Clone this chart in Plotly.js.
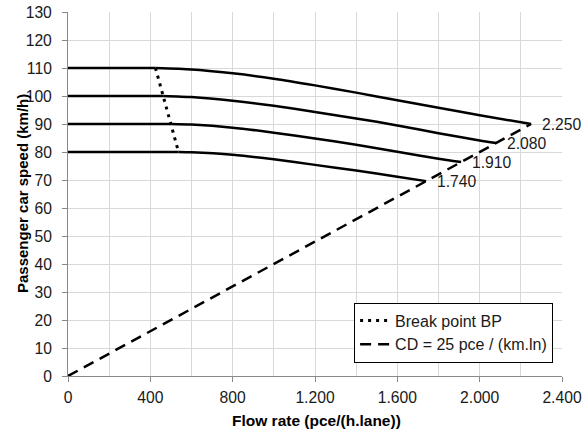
<!DOCTYPE html>
<html>
<head>
<meta charset="utf-8">
<script src="https://cdn.plot.ly/plotly-3.0.1.min.js"></script>
<style>
  html, body { margin: 0; padding: 0; background: #fff; }
  #chart { width: 584px; height: 431px; }
</style>
</head>
<body>
<div id="chart"></div>
<script>
// ---- data ----
const flow110 = [0, 425, 600, 800, 1000, 1200, 1400, 1600, 1800, 2000, 2250];
const speed110 = [110, 110, 109.5, 108.1, 106.2, 103.8, 101.2, 98.5, 95.8, 93.1, 90];

const flow100 = [0, 462, 600, 800, 1000, 1200, 1400, 1600, 1800, 2000, 2080];
const speed100 = [100, 100, 99.6, 98.3, 96.5, 94.3, 92.0, 89.5, 86.7, 84.1, 83.2];

const flow90 = [0, 500, 600, 800, 1000, 1200, 1400, 1600, 1800, 1910];
const speed90 = [90, 90, 89.8, 88.7, 86.9, 84.8, 82.6, 80.1, 77.6, 76.4];

const flow80 = [0, 537, 600, 800, 1000, 1200, 1400, 1600, 1740];
const speed80 = [80, 80, 79.9, 79.0, 77.4, 75.4, 73.4, 71.2, 69.6];

const bpFlow = [425, 462, 500, 537];
const bpSpeed = [110, 100, 90, 80];

const cdFlow = [0, 2250];
const cdSpeed = [0, 90];

const capFlow = [2250, 2080, 1910, 1740];
const capSpeed = [90, 83.2, 76.4, 69.6];
const capLabels = ['2.250', '2.080', '1.910', '1.740'];

const xTickVals = [0, 400, 800, 1200, 1600, 2000, 2400];
const xTickText = ['0', '400', '800', '1.200', '1.600', '2.000', '2.400'];

const legendNames = ['Break point BP', 'CD = 25 pce / (km.ln)'];
const xTitle = 'Flow rate (pce/(h.lane))';
const yTitle = 'Passenger car speed (km/h)';

// ---- build chart ----
const FONT = 'Liberation Sans, Arial, sans-serif';
const TXT = '#1a1a1a';
const flatLine = {color: '#000', width: 2.5};
const curveLine = {color: '#000', width: 2.5, shape: 'spline', smoothing: 0.6};

const traces = [
  {x: cdFlow, y: cdSpeed, mode: 'lines', name: legendNames[1], legendrank: 2,
   line: {color: '#000', width: 2.5, dash: '11px,7px'}}
];

// each speed-flow curve: flat part up to the break point (straight), then the curved part
[[flow110, speed110], [flow100, speed100], [flow90, speed90], [flow80, speed80]].forEach(([fx, sy]) => {
  traces.push({x: fx.slice(0, 2), y: sy.slice(0, 2), mode: 'lines', showlegend: false, line: flatLine});
  traces.push({x: fx.slice(1), y: sy.slice(1), mode: 'lines', showlegend: false, line: curveLine});
});

traces.push({x: bpFlow, y: bpSpeed, mode: 'lines', name: legendNames[0], legendrank: 1,
  line: {color: '#000', width: 3, dash: '3px,5px'}});

const annotations = capFlow.map((f, i) => ({
  x: f, y: capSpeed[i], xref: 'x', yref: 'y', text: capLabels[i],
  showarrow: false, xanchor: 'left', yanchor: 'middle', xshift: 9,
  font: {family: FONT, size: 15.7, color: TXT}
}));

// axis titles placed as annotations for precise positioning
annotations.push({
  text: '<b>' + yTitle + '</b>', textangle: -90, showarrow: false,
  xref: 'paper', yref: 'paper', x: 0, y: 0.5, xanchor: 'center', yanchor: 'middle',
  xshift: -46, font: {family: FONT, size: 15, color: '#000'}
});
annotations.push({
  text: '<b>' + xTitle + '</b>', showarrow: false,
  xref: 'paper', yref: 'paper', x: 0.5, y: 0, xanchor: 'center', yanchor: 'middle',
  yshift: -44, xshift: 1, font: {family: FONT, size: 15.5, color: '#000'}
});

const gridC = '#d9d9d9';
const axisC = '#898989';

const layout = {
  width: 584, height: 431,
  margin: {l: 68, r: 22, t: 12, b: 55},
  paper_bgcolor: '#fff', plot_bgcolor: '#fff',
  font: {family: FONT, size: 15.7, color: TXT},
  showlegend: true,
  legend: {
    x: 0.982, y: 0.037, xanchor: 'right', yanchor: 'bottom',
    bgcolor: '#fff', bordercolor: '#000', borderwidth: 1,
    font: {family: FONT, size: 16, color: TXT},
    tracegroupgap: 0, itemwidth: 30
  },
  xaxis: {
    range: [0, 2400], tickmode: 'array', tickvals: xTickVals, ticktext: xTickText,
    showgrid: true, gridcolor: gridC, gridwidth: 1,
    minor: {tickmode: 'linear', tick0: 0, dtick: 200, showgrid: true, gridcolor: gridC, gridwidth: 1, ticks: ''},
    showline: true, linecolor: axisC, linewidth: 1,
    ticks: 'outside', ticklen: 5, tickcolor: axisC,
    tickfont: {family: FONT, size: 15.7, color: TXT},
    ticklabelstandoff: 2,
    zeroline: false, automargin: false
  },
  yaxis: {
    range: [0, 130], dtick: 10, tick0: 0,
    showgrid: true, gridcolor: gridC, gridwidth: 1,
    showline: true, linecolor: axisC, linewidth: 1,
    ticks: 'outside', ticklen: 5, tickcolor: axisC,
    tickfont: {family: FONT, size: 15.7, color: TXT},
    ticklabelstandoff: 7,
    zeroline: false, automargin: false
  },
  annotations: annotations
};

Plotly.newPlot('chart', traces, layout, {displayModeBar: false, staticPlot: true});
</script>
</body>
</html>
